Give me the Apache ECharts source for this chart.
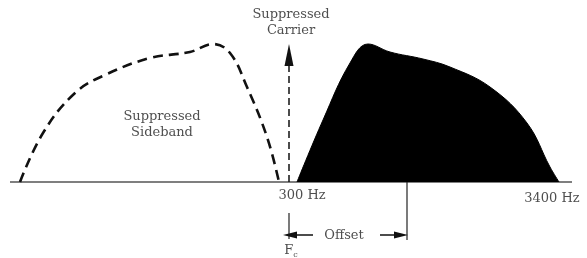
<!DOCTYPE html>
<html>
<head>
<meta charset="utf-8">
<script src="https://cdn.jsdelivr.net/npm/echarts@6/dist/echarts.min.js"></script>
<style>
  html, body { margin: 0; padding: 0; background: #fff; }
  #chart { width: 587px; height: 258px; }
</style>
</head>
<body>
<div id="chart"></div>
<script>
// horizontal position (drawing units) and relative amplitude of each curve
const suppressedX = [20, 43, 75, 105, 150, 190, 213, 230, 247, 267, 279];
const suppressedY = [0, 49, 89, 107, 124, 130, 138, 129, 95, 45, 0];

const passedX = [297, 323, 350, 368, 390, 423, 450, 490, 527, 550, 559];
const passedY = [0, 62, 119, 138, 130, 123, 115, 95, 59, 15, 0];

// carrier and axis marks
const carrierX = 289;
const carrierTop = 127;
const baseline = [10, 572];
const tickLabels = ['300 Hz', '3400 Hz'];
const tickX = [302, 552];
const offsetEndX = 407;

const pairs = (xs, ys) => xs.map((x, i) => [x, ys[i]]);
const font = 'DejaVu Serif';

const textItem = (x, y, name) => ({ value: [x, y], name: name });

const chart = echarts.init(document.getElementById('chart'));
chart.setOption({
    animation: false,
    grid: { left: 0, right: 0, top: 0, bottom: 0 },
    xAxis: { type: 'value', min: 0, max: 587, show: false },
    yAxis: { type: 'value', min: -76, max: 182, show: false },
    series: [
        {
            // baseline
            type: 'line',
            data: [[baseline[0], 0], [baseline[1], 0]],
            symbol: 'none',
            lineStyle: { color: '#555', width: 1.5 },
            z: 1
        },
        {
            // suppressed lower sideband
            type: 'line',
            data: pairs(suppressedX, suppressedY),
            smooth: 0.4,
            symbol: 'none',
            lineStyle: { color: '#111', width: 2.6, type: [10, 6] }
        },
        {
            // transmitted sideband
            type: 'line',
            data: pairs(passedX, passedY),
            smooth: 0.4,
            symbol: 'none',
            lineStyle: { color: '#000', width: 1 },
            areaStyle: { color: '#000', opacity: 1 },
            z: 2
        },
        {
            // suppressed carrier arrow
            type: 'line',
            data: [
                { value: [carrierX, 0], symbol: 'none' },
                { value: [carrierX, carrierTop], symbol: 'triangle', symbolSize: [9, 22] }
            ],
            lineStyle: { color: '#111', width: 1.5, type: [7, 4] },
            itemStyle: { color: '#111' }
        },
        {
            // Fc marker
            type: 'line',
            data: [[carrierX, -31], [carrierX, -57]],
            symbol: 'none',
            lineStyle: { color: '#222', width: 1.2 }
        },
        {
            // offset marker
            type: 'line',
            data: [[offsetEndX, 0], [offsetEndX, -58]],
            symbol: 'none',
            lineStyle: { color: '#222', width: 1.2 }
        },
        {
            // left arrow of offset
            type: 'line',
            data: [
                { value: [carrierX + 1, -53], symbol: 'triangle', symbolSize: [7, 14], symbolRotate: 90 },
                { value: [313, -53], symbol: 'none' }
            ],
            lineStyle: { color: '#111', width: 1.5 },
            itemStyle: { color: '#111' }
        },
        {
            // right arrow of offset
            type: 'line',
            data: [
                { value: [380, -53], symbol: 'none' },
                { value: [offsetEndX - 6, -53], symbol: 'triangle', symbolSize: [7, 14], symbolRotate: -90 }
            ],
            lineStyle: { color: '#111', width: 1.5 },
            itemStyle: { color: '#111' }
        },
        {
            // text annotations
            type: 'scatter',
            symbolSize: 0,
            label: {
                show: true,
                position: 'inside',
                formatter: p => p.name,
                fontFamily: font,
                fontSize: 13,
                color: '#222',
                lineHeight: 16,
                rich: {
                    f: { fontFamily: font, fontSize: 13, color: '#222' },
                    c: { fontFamily: font, fontSize: 8, color: '#222', padding: [7, 0, 0, 0] }
                }
            },
            data: [
                textItem(291, 159, 'Suppressed\nCarrier'),
                textItem(162, 57, 'Suppressed\nSideband'),
                textItem(tickX[0], -14, tickLabels[0]),
                textItem(tickX[1], -17, tickLabels[1]),
                textItem(344, -54, 'Offset'),
                textItem(carrierX + 2, -69, '{f|F}{c|c}')
            ],
            z: 5
        }
    ]
});
</script>
</body>
</html>
